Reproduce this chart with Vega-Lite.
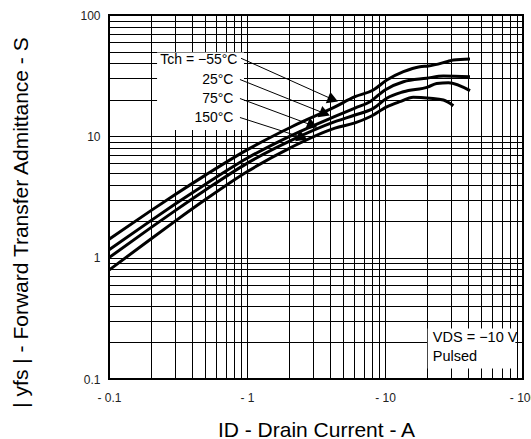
{
  "$schema": "https://vega.github.io/schema/vega-lite/v6.json",
  "width": 414,
  "height": 364,
  "autosize": {"type": "none"},
  "padding": {"left": 109, "top": 15, "right": 8, "bottom": 60},
  "background": "white",
  "config": {
    "font": "Liberation Sans",
    "view": {"stroke": "black", "strokeWidth": 2}
  },
  "datasets": {
    "curves": [
      {"series": "-55", "x": 0.1, "y": 1.42}, {"series": "-55", "x": 0.2, "y": 2.43}, {"series": "-55", "x": 0.3, "y": 3.3}, {"series": "-55", "x": 0.5, "y": 4.79}, {"series": "-55", "x": 1.0, "y": 7.73}, {"series": "-55", "x": 2.11, "y": 12.0}, {"series": "-55", "x": 4.34, "y": 17.5}, {"series": "-55", "x": 6.06, "y": 21.2}, {"series": "-55", "x": 8.23, "y": 24.1}, {"series": "-55", "x": 10.3, "y": 29.1}, {"series": "-55", "x": 13.6, "y": 34.1}, {"series": "-55", "x": 17.9, "y": 37.5}, {"series": "-55", "x": 20.6, "y": 38.0}, {"series": "-55", "x": 28.0, "y": 41.2}, {"series": "-55", "x": 31.3, "y": 42.6}, {"series": "-55", "x": 41.3, "y": 43.4},
      {"series": "25", "x": 0.1, "y": 1.16}, {"series": "25", "x": 0.2, "y": 2.01}, {"series": "25", "x": 0.3, "y": 2.75}, {"series": "25", "x": 0.5, "y": 4.03}, {"series": "25", "x": 1.0, "y": 6.59}, {"series": "25", "x": 2.11, "y": 10.2}, {"series": "25", "x": 4.34, "y": 14.6}, {"series": "25", "x": 6.06, "y": 17.1}, {"series": "25", "x": 7.78, "y": 19.3}, {"series": "25", "x": 10.0, "y": 24.1}, {"series": "25", "x": 13.6, "y": 28.2}, {"series": "25", "x": 20.0, "y": 30.1}, {"series": "25", "x": 26.5, "y": 31.4}, {"series": "25", "x": 41.3, "y": 31.0},
      {"series": "75", "x": 0.1, "y": 1.0}, {"series": "75", "x": 0.2, "y": 1.76}, {"series": "75", "x": 0.3, "y": 2.43}, {"series": "75", "x": 0.5, "y": 3.61}, {"series": "75", "x": 1.0, "y": 5.99}, {"series": "75", "x": 2.11, "y": 9.3}, {"series": "75", "x": 4.34, "y": 13.2}, {"series": "75", "x": 6.06, "y": 15.0}, {"series": "75", "x": 8.23, "y": 17.0}, {"series": "75", "x": 10.3, "y": 20.6}, {"series": "75", "x": 13.6, "y": 23.3}, {"series": "75", "x": 20.6, "y": 25.6}, {"series": "75", "x": 23.7, "y": 27.3}, {"series": "75", "x": 28.8, "y": 27.7}, {"series": "75", "x": 41.3, "y": 23.8},
      {"series": "150", "x": 0.1, "y": 0.79}, {"series": "150", "x": 0.2, "y": 1.42}, {"series": "150", "x": 0.3, "y": 1.99}, {"series": "150", "x": 0.5, "y": 3.01}, {"series": "150", "x": 1.0, "y": 5.1}, {"series": "150", "x": 2.11, "y": 8.16}, {"series": "150", "x": 4.34, "y": 11.7}, {"series": "150", "x": 6.06, "y": 12.9}, {"series": "150", "x": 7.78, "y": 14.5}, {"series": "150", "x": 10.3, "y": 17.5}, {"series": "150", "x": 12.8, "y": 19.3}, {"series": "150", "x": 16.0, "y": 21.0}, {"series": "150", "x": 21.2, "y": 20.6}, {"series": "150", "x": 26.5, "y": 19.9}, {"series": "150", "x": 31.3, "y": 17.9}
    ],
    "boxes": [
      {"x": 0.223, "x2": 0.951, "y": 49.1, "y2": 11.3},
      {"x": 20.4, "x2": 88, "y": 0.261, "y2": 0.122}
    ],
    "arrows": [
      {"x": 0.905, "y": 44.0, "x2": 4.2, "y2": 20.1},
      {"x": 0.889, "y": 29.4, "x2": 3.67, "y2": 15.4},
      {"x": 0.889, "y": 20.5, "x2": 2.98, "y2": 12.3},
      {"x": 0.889, "y": 14.3, "x2": 2.52, "y2": 9.77}
    ],
    "labels": [
      {"x": 0.853, "y": 42.6, "text": "Tch = −55°C"},
      {"x": 0.798, "y": 29.1, "text": "25°C"},
      {"x": 0.798, "y": 20.3, "text": "75°C"},
      {"x": 0.798, "y": 14.2, "text": "150°C"}
    ],
    "notes": [
      {"x": 22.2, "y": 0.219, "text": "VDS = −10 V"},
      {"x": 22.2, "y": 0.151, "text": "Pulsed"}
    ]
  },
  "encoding": {
    "x": {
      "field": "x", "type": "quantitative",
      "scale": {"type": "log", "domain": [0.1, 100], "nice": false},
      "axis": {
        "values": [0.1,0.2,0.3,0.4,0.5,0.6,0.7,0.8,0.9,1,2,3,4,5,6,7,8,9,10,20,30,40,50,60,70,80,90,100],
        "labelExpr": "indexof([0.1,1,10,100], datum.value) >= 0 ? '- ' + datum.value : ''",
        "grid": true, "gridColor": "black", "gridOpacity": 1, "gridWidth": 1,
        "ticks": false, "domain": false,
        "labelFontSize": 12, "labelColor": "#222", "labelPadding": 13, "labelFlush": false, "labelOverlap": false,
        "title": "ID - Drain Current - A", "titleFontSize": 21, "titleFontWeight": "normal", "titleColor": "black",
        "titleY": 57, "titleBaseline": "alphabetic"
      }
    },
    "y": {
      "field": "y", "type": "quantitative",
      "scale": {"type": "log", "domain": [0.1, 100], "nice": false},
      "axis": {
        "values": [0.1,0.2,0.3,0.4,0.5,0.6,0.7,0.8,0.9,1,2,3,4,5,6,7,8,9,10,20,30,40,50,60,70,80,90,100],
        "labelExpr": "indexof([0.1,1,10,100], datum.value) >= 0 ? '' + datum.value : ''",
        "grid": true, "gridColor": "black", "gridOpacity": 1, "gridWidth": 1,
        "ticks": false, "domain": false,
        "labelFontSize": 12, "labelColor": "#222", "labelPadding": 9, "labelFlush": false, "labelOverlap": false,
        "title": "| yfs | - Forward Transfer Admittance - S", "titleFontSize": 21, "titleFontWeight": "normal", "titleColor": "black",
        "titleX": -82, "titleY": 207, "titleBaseline": "alphabetic", "titleAlign": "center", "titleAngle": 270
      }
    }
  },
  "layer": [
    {
      "data": {"name": "boxes"},
      "mark": {"type": "rect", "fill": "white", "strokeWidth": 0},
      "encoding": {"x2": {"field": "x2"}, "y2": {"field": "y2"}}
    },
    {
      "data": {"name": "curves"},
      "mark": {"type": "line", "color": "black", "strokeWidth": 3, "interpolate": "monotone"},
      "encoding": {"detail": {"field": "series", "type": "nominal"}}
    },
    {
      "data": {"name": "arrows"},
      "mark": {"type": "rule", "color": "black", "strokeWidth": 1},
      "encoding": {"x2": {"field": "x2"}, "y2": {"field": "y2"}}
    },
    {
      "data": {"name": "arrows"},
      "mark": {"type": "point", "shape": "triangle-right", "filled": true, "color": "black", "opacity": 1, "size": 150, "angle": 22},
      "encoding": {
        "x": {"field": "x2", "type": "quantitative", "title": "ID - Drain Current - A"},
        "y": {"field": "y2", "type": "quantitative", "title": "| yfs | - Forward Transfer Admittance - S"}
      }
    },
    {
      "data": {"name": "labels"},
      "mark": {"type": "text", "align": "right", "baseline": "middle", "fontSize": 14, "color": "black"},
      "encoding": {"text": {"field": "text"}}
    },
    {
      "data": {"name": "notes"},
      "mark": {"type": "text", "align": "left", "baseline": "middle", "fontSize": 14.5, "color": "black"},
      "encoding": {"text": {"field": "text"}}
    }
  ]
}
